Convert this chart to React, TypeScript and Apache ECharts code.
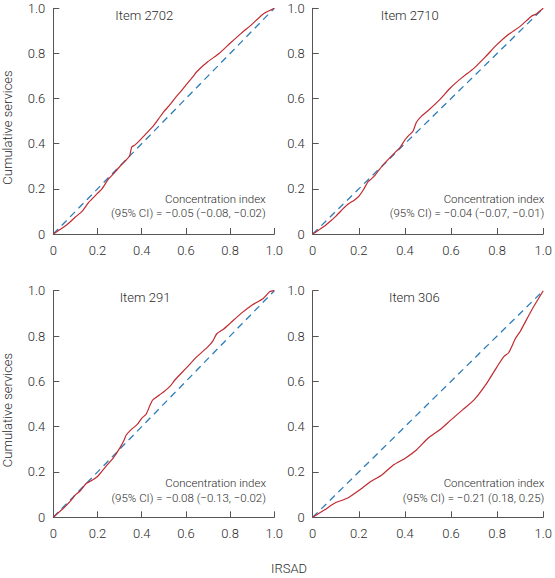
import React, { useEffect, useRef } from "react";
import * as echarts from "echarts";

const equality: number[][] = [
  [0, 0],
  [1, 1],
];

const item2702: number[][] = [
  [0, 0], [0.03, 0.02], [0.06, 0.04], [0.1, 0.075], [0.13, 0.1], [0.16, 0.14],
  [0.2, 0.18], [0.22, 0.2], [0.25, 0.244], [0.28, 0.275], [0.3, 0.298],
  [0.33, 0.328], [0.345, 0.345], [0.355, 0.385], [0.37, 0.395], [0.4, 0.424],
  [0.43, 0.455], [0.45, 0.476], [0.48, 0.515], [0.5, 0.542], [0.53, 0.575],
  [0.55, 0.601], [0.58, 0.635], [0.6, 0.66], [0.63, 0.695], [0.65, 0.72],
  [0.7, 0.764], [0.75, 0.8], [0.8, 0.845], [0.85, 0.889], [0.9, 0.93],
  [0.95, 0.975], [1, 1],
];

const item2710: number[][] = [
  [0, 0], [0.03, 0.02], [0.05, 0.034], [0.08, 0.06], [0.1, 0.078], [0.13, 0.11],
  [0.15, 0.13], [0.18, 0.15], [0.2, 0.167], [0.22, 0.196], [0.24, 0.232],
  [0.25, 0.24], [0.27, 0.26], [0.3, 0.3], [0.35, 0.354], [0.38, 0.385],
  [0.4, 0.417], [0.42, 0.44], [0.435, 0.455], [0.45, 0.495], [0.47, 0.52],
  [0.5, 0.546], [0.55, 0.594], [0.6, 0.65], [0.65, 0.695], [0.7, 0.735],
  [0.75, 0.786], [0.8, 0.84], [0.85, 0.885], [0.9, 0.92], [0.95, 0.966],
  [0.97, 0.975], [1, 1],
];

const item291: number[][] = [
  [0, 0], [0.05, 0.044], [0.08, 0.075], [0.1, 0.099], [0.12, 0.115], [0.15, 0.15],
  [0.17, 0.16], [0.2, 0.18], [0.23, 0.215], [0.25, 0.238], [0.27, 0.26],
  [0.3, 0.304], [0.32, 0.34], [0.33, 0.363], [0.35, 0.385], [0.38, 0.41],
  [0.4, 0.437], [0.42, 0.455], [0.44, 0.5], [0.45, 0.518], [0.48, 0.54],
  [0.5, 0.554], [0.53, 0.58], [0.55, 0.606], [0.6, 0.657], [0.65, 0.709],
  [0.7, 0.753], [0.72, 0.775], [0.74, 0.81], [0.77, 0.83], [0.8, 0.856],
  [0.85, 0.9], [0.9, 0.937], [0.95, 0.966], [0.98, 0.996], [1, 1],
];

const item306: number[][] = [
  [0, 0], [0.05, 0.032], [0.1, 0.065], [0.15, 0.084], [0.2, 0.118],
  [0.25, 0.157], [0.3, 0.187], [0.35, 0.231], [0.4, 0.26], [0.45, 0.297],
  [0.5, 0.349], [0.55, 0.385], [0.6, 0.43], [0.65, 0.474], [0.7, 0.518],
  [0.75, 0.584], [0.8, 0.665], [0.83, 0.71], [0.85, 0.726], [0.88, 0.79],
  [0.9, 0.82], [0.95, 0.915], [1, 1],
];

const panelTitles: string[] = ["Item 2702", "Item 2710", "Item 291", "Item 306"];
const ciLabels: string[] = [
  "(95% CI) = \u22120.05 (\u22120.08, \u22120.02)",
  "(95% CI) = \u22120.04 (\u22120.07, \u22120.01)",
  "(95% CI) = \u22120.08 (\u22120.13, \u22120.02)",
  "(95% CI) = \u22120.21 (0.18, 0.25)",
];
const curves: number[][][] = [item2702, item2710, item291, item306];

const FONT = "Roboto, 'Noto Sans', sans-serif";
const TEXT = "#2b2b2b";
const AXIS = "#555";
const RED = "#bf2a30";
const BLUE = "#2e7dba";

export default function App() {
  const ref = useRef<HTMLDivElement>(null);
  useEffect(() => {
    if (!ref.current) return;
    const chart = echarts.init(ref.current, null, { renderer: "svg" });
    const grids = [
      { left: 53.3, top: 8.3, width: 221, height: 225.7 },
      { left: 312.7, top: 8.3, width: 236.6, height: 225.7 },
      { left: 53.3, top: 290.7, width: 221, height: 226.6 },
      { left: 312.7, top: 290.7, width: 236.6, height: 226.6 },
    ];
    const fmt = (v: number) => (v === 0 ? "0" : v.toFixed(1));
    const axisCommon = {
      type: "value" as const,
      min: 0,
      max: 1,
      interval: 0.2,
      splitLine: { show: false },
      axisLine: { show: true, lineStyle: { color: AXIS, width: 1 } },
      axisTick: { show: true, inside: true, length: 6, lineStyle: { color: AXIS } },
      axisLabel: {
        color: TEXT,
        fontSize: 13,
        fontWeight: 300,
        fontFamily: FONT,
        formatter: fmt,
      },
    };
    const xAxis = grids.map((_, i) => ({
      ...axisCommon,
      gridIndex: i,
      axisLabel: { ...axisCommon.axisLabel, margin: 10 },
    }));
    const yAxis = grids.map((_, i) => ({
      ...axisCommon,
      gridIndex: i,
      axisLabel: { ...axisCommon.axisLabel, margin: 8 },
    }));
    const series: any[] = [];
    curves.forEach((c, i) => {
      series.push({
        type: "line",
        xAxisIndex: i,
        yAxisIndex: i,
        data: equality,
        showSymbol: false,
        symbol: "none",
        lineStyle: { color: BLUE, width: 1.3, type: [7, 5] },
        z: 2,
      });
      series.push({
        type: "line",
        xAxisIndex: i,
        yAxisIndex: i,
        data: c,
        showSymbol: false,
        symbol: "none",
        smooth: 0.2,
        lineStyle: { color: RED, width: 1.2 },
        z: 3,
      });
    });
    const titlePos = [
      [144.3, 15],
      [409.7, 15],
      [145, 297],
      [414.3, 297],
    ];
    const ciPos = [
      [265.7, 199, 213],
      [544.3, 199, 213],
      [266, 483, 497.5],
      [544.3, 483, 497.5],
    ];
    const font = (s: number) => `300 ${s}px ${FONT}`;
    const graphic: any[] = [];
    panelTitles.forEach((t, i) => {
      graphic.push({
        type: "text",
        x: titlePos[i][0],
        y: titlePos[i][1],
        style: {
          text: t,
          fill: TEXT,
          font: font(13),
          align: "center",
          verticalAlign: "middle",
        },
      });
      graphic.push({
        type: "text",
        x: ciPos[i][0],
        y: ciPos[i][1],
        style: {
          text: "Concentration index",
          fill: TEXT,
          font: font(11.5),
          align: "right",
          verticalAlign: "middle",
        },
      });
      graphic.push({
        type: "text",
        x: ciPos[i][0],
        y: ciPos[i][2],
        style: {
          text: ciLabels[i],
          fill: TEXT,
          font: font(11.5),
          align: "right",
          verticalAlign: "middle",
        },
      });
    });
    [127.5, 410].forEach((cy) => {
      graphic.push({
        type: "text",
        x: 7.5,
        y: cy,
        rotation: Math.PI / 2,
        style: {
          text: "Cumulative services",
          fill: TEXT,
          font: font(13),
          align: "center",
          verticalAlign: "middle",
        },
      });
    });
    graphic.push({
      type: "text",
      x: 289,
      y: 568,
      style: {
        text: "IRSAD",
        fill: TEXT,
        font: font(13),
        align: "center",
        verticalAlign: "middle",
      },
    });

    chart.setOption({
      animation: false,
      backgroundColor: "#fff",
      grid: grids,
      xAxis,
      yAxis,
      series,
      graphic,
    });
    return () => chart.dispose();
  }, []);
  return (
    <div
      ref={ref}
      style={{ position: "fixed", left: 0, top: 0, width: 555, height: 578 }}
    />
  );
}
